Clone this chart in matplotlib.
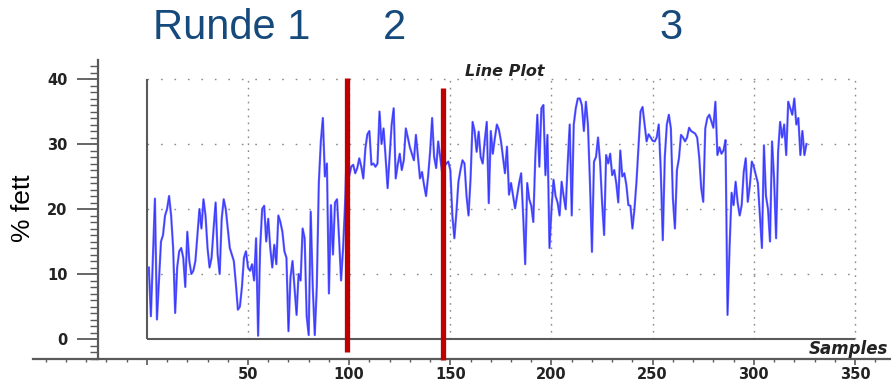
import numpy as np
import matplotlib
matplotlib.use("Agg")
import matplotlib.pyplot as plt
from matplotlib.ticker import MultipleLocator, FixedLocator

# Fat content (%) per sample, grouped by measurement round
round1 = [11, 3.5, 12.5, 21.6, 3, 9, 15, 16, 19, 20, 22, 19, 14, 4, 11, 13.5, 14, 12.5, 8, 16.5,
          12, 10, 10.5, 12, 16, 20, 17, 21.5, 19, 14, 11, 12.5, 17, 21, 13, 10, 18.5, 21.5, 20, 17,
          14, 13, 12, 8.5, 4.5, 5, 8, 12.5, 13.5, 11, 10.5, 11.5, 9, 15.5, 0.5, 14, 20, 20.5, 15, 18.5,
          14, 11, 14.5, 11.5, 19, 18, 16.5, 13.5, 12.5, 1.2, 9.5, 12, 7.8, 3.7, 10, 9, 17, 15.5, 3.5, 0.6,
          19.6, 8, 0.6, 8, 24, 30.4, 34, 25, 27, 7, 20.6, 13, 21, 21.5, 15.5, 9, 14, 21]
round2 = [31, 25, 26.5, 26.8, 25.5, 26.3, 27.8, 26.5, 24.7, 29.3, 31.5, 32, 26.8, 27, 26.5, 27,
          35, 30, 32.4, 28, 23.2, 28, 33, 35.5, 24.7, 26.8, 28.5, 26, 27.5, 32.4, 31, 29.5, 28.5, 27.5,
          31.4, 28, 24.7, 25.7, 23.7, 22, 25, 28.8, 34, 28, 26.3, 30.4, 28, 25.5]
round3 = [26.5, 27, 27.3, 26, 19, 15.5, 19.5, 24.2, 26, 27.5, 27, 22, 19, 24.7, 33.4, 32, 28.8, 31.9,
          28, 27, 30.5, 33.4, 20.9, 32, 28.5, 30.9, 33, 32.2, 30.5, 28, 25.5, 29.6, 22.2, 24, 22, 20.1,
          22, 24, 25.5, 19, 11.5, 24, 21.5, 20.5, 18, 28, 34.5, 26.5, 35.5, 36, 25.2, 31.4, 14, 20,
          24.5, 22, 21, 19, 24.2, 22, 20, 27, 33, 19, 33, 35.5, 37, 37, 36, 32, 36.5, 33, 24.2, 13.4,
          27.3, 28, 31, 27.3, 21, 16, 28.3, 27, 28.5, 25.2, 26, 24, 21, 29, 25, 25.5, 23.7, 20.6, 20.5,
          17, 20, 24.2, 29.5, 35, 35.7, 33, 30.4, 31.5, 31, 30.5, 30.4, 31, 33, 26, 15.2, 28, 33, 34.5,
          32.4, 21.6, 17, 26, 27.8, 31.4, 31, 30.4, 31, 32.5, 32, 31.8, 31.6, 31, 28, 23.2, 21.1, 32.4,
          34, 34.5, 33.5, 32.5, 36.5, 28.3, 29.5, 28.5, 29, 30.6, 3.7, 14, 22.5, 20.6, 24.2, 21, 19,
          20.6, 25.7, 27.8, 21.1, 23.5, 27.3, 26.5, 25.2, 24, 19, 14, 29.8, 22, 20, 15, 30.4, 24.7,
          15.5, 28.8, 33.4, 31, 33, 28.3, 36.5, 35.5, 34.5, 37, 33, 34, 28.3, 32, 28.3, 30]

round_breaks = [99, 146.5]          # sample positions where a new round starts
round_labels = ["Runde 1", "2", "3"]
y_ticks = [0, 10, 20, 30, 40]
x_ticks = [50, 100, 150, 200, 250, 300, 350]

values = np.array(round1 + round2 + round3)
samples = np.arange(1, len(values) + 1)

W, H = 891, 381
fig = plt.figure(figsize=(W / 100, H / 100), dpi=100)

# pixel layout of the axes frame
px_per_x = 607 / 300.0
x0_px = 248 - 50 * px_per_x
px_per_y = 6.5
y0_px = 339
ax_left_px, ax_right_px, ax_top_px, ax_bot_px = 33, 891, 60, 359
ax = fig.add_axes([ax_left_px / W, 1 - ax_bot_px / H,
                   (ax_right_px - ax_left_px) / W, (ax_bot_px - ax_top_px) / H])
ax.set_xlim((ax_left_px - x0_px) / px_per_x, (ax_right_px - x0_px) / px_per_x)
ax.set_ylim((y0_px - ax_bot_px) / px_per_y, (y0_px - ax_top_px) / px_per_y)
ax.patch.set_alpha(0)

axis_grey = "#5a5a5a"
for s in ("top", "right"):
    ax.spines[s].set_visible(False)
ax.spines["left"].set_position(("data", (98 - x0_px) / px_per_x))
for s in ("left", "bottom"):
    ax.spines[s].set_color(axis_grey)
    ax.spines[s].set_linewidth(1.6)

tick_font = dict(family="DejaVu Sans", weight="bold", size=10.5)
ax.yaxis.set_major_locator(FixedLocator(y_ticks))
ax.yaxis.set_minor_locator(MultipleLocator(1))
ax.set_yticklabels([str(v) for v in y_ticks], **tick_font, color="#222222")
ax.tick_params(axis="y", which="major", length=15, width=1.3, color=axis_grey, pad=7)
ax.tick_params(axis="y", which="minor", length=5.5, width=1.0, color=axis_grey)

ax.xaxis.set_major_locator(FixedLocator([0] + x_ticks))
ax.xaxis.set_minor_locator(MultipleLocator(10))
ax.set_xticklabels([""] + [str(v) for v in x_ticks], **tick_font, color="#222222")
ax.tick_params(axis="x", which="major", length=4.5, width=1.2, color=axis_grey, pad=1.5)
ax.tick_params(axis="x", which="minor", length=2.5, width=1.0, color=axis_grey)

# inner plot box: solid left/bottom, dotted grid and top/right edges
grid_col = "#8a8a8a"
for yv in y_ticks[1:]:
    ax.plot([0, 350], [yv, yv], color=grid_col, lw=1.0, dashes=(1.2, 8.5), zorder=1)
for xv in x_ticks:
    ax.plot([xv, xv], [0, 40], color=grid_col, lw=1.0, dashes=(1.2, 3.8), zorder=1)
ax.plot([0, 0], [0, 40], color=axis_grey, lw=1.5, zorder=2, solid_capstyle="butt")
ax.plot([0, 350], [0, 0], color=axis_grey, lw=1.5, zorder=2, solid_capstyle="butt")

# measurement trace
ax.plot(samples, values, color="#6868ff", lw=1.6, zorder=3)
ax.plot(samples, values, color="#1010ff", lw=0.6, alpha=0.6, zorder=4)

# round separators
ax.plot([round_breaks[0]] * 2, [40.2, -2.0], color="#c00000", lw=3.8, zorder=5,
        solid_capstyle="butt", clip_on=False)
ax.plot([round_breaks[1]] * 2, [38.6, -3.2], color="#c00000", lw=3.8, zorder=5,
        solid_capstyle="butt", clip_on=False)

ax.text(177, 41.2, "Line Plot", ha="center", va="center", fontsize=11.5,
        fontweight="bold", style="italic", family="DejaVu Sans", color="#222222")
ax.text(366.5, -1.6, "Samples", ha="right", va="center", fontsize=12,
        fontweight="bold", style="italic", family="DejaVu Sans", color="#222222")

fig.text(23 / W, 1 - 208 / H, "% fett", rotation=90, ha="center", va="center",
         fontsize=19, family="Liberation Sans", color="black")

title_col = "#174a7c"
title_x = [153, 383, 659]
for lab, xp in zip(round_labels, title_x):
    fig.text(xp / W, 1 - 28 / H, lab, ha="left", va="center", fontsize=30,
             family="Liberation Sans", color=title_col)

fig.savefig("out.png", dpi=100)
